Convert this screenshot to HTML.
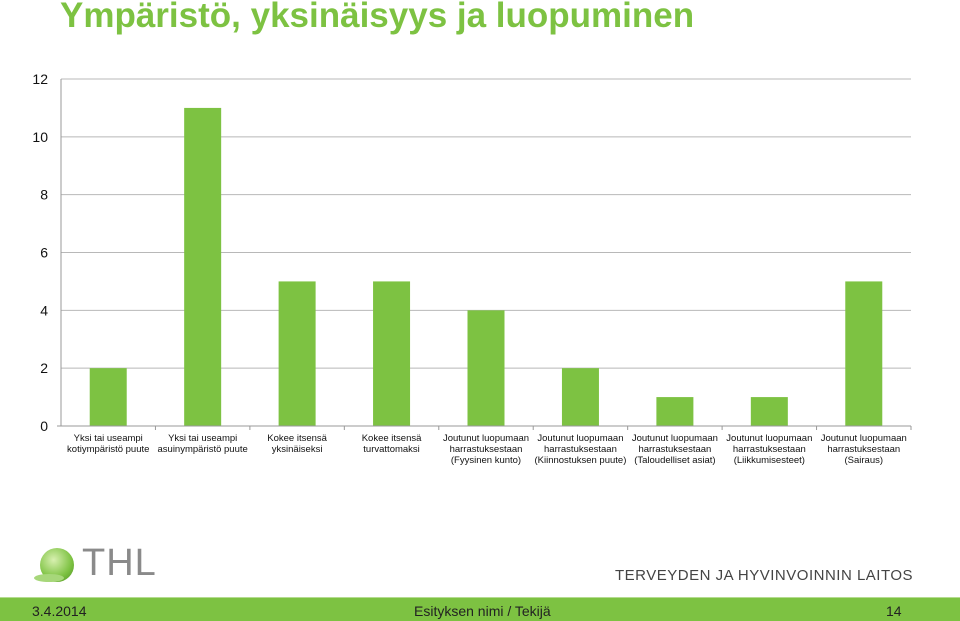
<!DOCTYPE html>
<html><head><meta charset="utf-8"><style>
body{margin:0;width:960px;height:620px;background:#fff;position:relative;overflow:hidden;font-family:"Liberation Sans",sans-serif}
#title{position:absolute;left:60px;top:-4px;font-size:35px;font-weight:bold;color:#7dc242;white-space:nowrap}
#footer{position:absolute;left:0;top:597px;width:960px;height:23px;background:#7dc242;border-top:1px solid #b5dc90}
#footer span{position:absolute;top:5px;font-size:14px;color:#222}
</style></head><body>
<div id="title">Ympäristö, yksinäisyys ja luopuminen</div>
<svg id="chart" width="960" height="620" style="position:absolute;left:0;top:0"></svg>
<div style="position:absolute;left:34px;top:544px;width:130px;height:44px">
<div style="position:absolute;left:6px;top:4px;width:34px;height:34px;border-radius:50%;background:radial-gradient(circle at 40% 35%,#d8f0b0,#7dc242 60%,#4a8f1e)"></div>
<div style="position:absolute;left:0;top:30px;width:30px;height:8px;border-radius:50%;background:#a7d77a"></div>
<span style="position:absolute;left:48px;top:-2px;font-size:38px;color:#8a8a8a;letter-spacing:1px">THL</span></div>
<div style="position:absolute;left:615px;top:567px;font-size:15px;color:#444;letter-spacing:0.5px">TERVEYDEN JA HYVINVOINNIN LAITOS</div>
<div id="footer">
<span style="left:32px">3.4.2014</span>
<span style="left:414px">Esityksen nimi / Tekijä</span>
<span style="left:886px">14</span>
</div>
<script>
const categories=[["Yksi tai useampi","kotiympäristö puute"],["Yksi tai useampi","asuinympäristö puute"],["Kokee itsensä","yksinäiseksi"],["Kokee itsensä","turvattomaksi"],["Joutunut luopumaan","harrastuksestaan","(Fyysinen kunto)"],["Joutunut luopumaan","harrastuksestaan","(Kiinnostuksen puute)"],["Joutunut luopumaan","harrastuksestaan","(Taloudelliset asiat)"],["Joutunut luopumaan","harrastuksestaan","(Liikkumisesteet)"],["Joutunut luopumaan","harrastuksestaan","(Sairaus)"]];
const values=[2,11,5,5,4,2,1,1,5];
const yTicks=[0,2,4,6,8,10,12];
const NS="http://www.w3.org/2000/svg";
const svg=document.getElementById('chart');
const x0=61,x1=911,y0=426,y1=79,yMax=12;
const bw=(x1-x0)/categories.length;
const y=v=>y0-(v/yMax)*(y0-y1);
const xc=i=>x0+bw*(i+0.5);
function mk(t,a){const e=document.createElementNS(NS,t);for(const k in a)e.setAttribute(k,a[k]);svg.appendChild(e);return e;}
yTicks.forEach(t=>{
 if(t>0){const g=mk('line',{x1:x0,x2:x1,y1:y(t),y2:y(t),stroke:'#b8b8b8','stroke-width':1});
 
 }
 const l=mk('text',{x:48,y:y(t)+5,'text-anchor':'end','font-size':14,fill:'#111','font-family':'Liberation Sans'});
 l.textContent=t;
 
 
});
values.forEach((v,i)=>{
 const r=mk('rect',{x:xc(i)-18.5,y:y(v),width:37,height:y0-y(v),fill:'#7dc242'});
 
 
 const tk=mk('line',{x1:x0+bw*(i+1),x2:x0+bw*(i+1),y1:y0,y2:y0+4,stroke:'#999'});
 
 
 const tx=mk('text',{'text-anchor':'middle','font-size':9.5,fill:'#111','font-family':'Liberation Sans'});
 
 
 categories[i].forEach((ln,j)=>{const s=document.createElementNS(NS,'tspan');s.setAttribute('x',xc(i));s.setAttribute('y',441+j*11);s.textContent=ln;tx.appendChild(s);});
});
const ya=mk('line',{x1:x0,x2:x0,y1:y1,y2:y0,stroke:'#999'});


const xa=mk('line',{x1:x0-4,x2:x1,y1:y0,y2:y0,stroke:'#999'});


</script>
</body></html>
